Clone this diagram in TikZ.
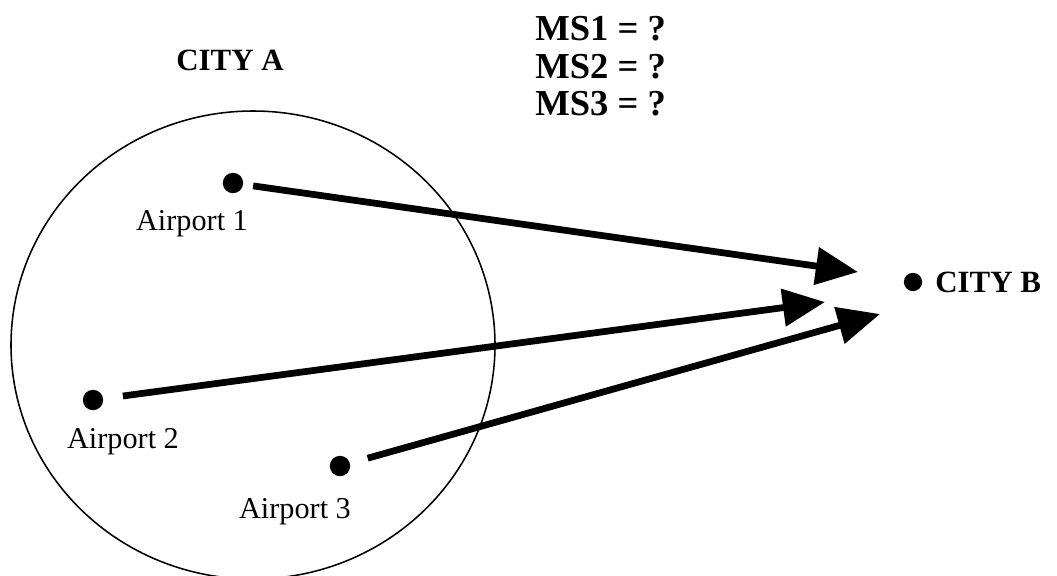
\documentclass[tikz,border=0pt]{standalone}
\usepackage{fontspec}
\setmainfont{Liberation Serif}
\usetikzlibrary{arrows.meta}

\tikzset{
    dot/.style={circle, fill=black, inner sep=0pt, minimum size=14.5pt},
    place/.style={font=\fontsize{21.5}{25}\selectfont, inner sep=0pt},
    city/.style={font=\bfseries\fontsize{22}{26}\selectfont, inner sep=0pt},
    share/.style={font=\bfseries\fontsize{26}{30}\selectfont, inner sep=0pt, anchor=base west},
    flight/.style={line width=4.8pt, -{Triangle[length=30pt, width=26pt]}}
}

\begin{document}
\begin{tikzpicture}[x=0.025cm, y=-0.025cm]
            % the frame
            \path[use as bounding box, clip] (0,0) rectangle (1057,575);
            % city A
            \draw[line width=1.1pt] (253,345) ellipse [x radius=242, y radius=234];

            % airports and city B
            \node[dot] (a1) at (233,183) {};
            \node[dot] (a2) at (93,400) {};
            \node[dot] (a3) at (340,466) {};
            \node[dot, minimum size=13pt] (b) at (913,282) {};

            % arrow tips
            \coordinate (t1) at (858,272);
            \coordinate (t2) at (825,302);
            \coordinate (t3) at (880,314);

            \foreach \i/\s in {1/7pt, 2/14pt, 3/13pt} {
                \draw[flight, shorten <=\s] (a\i) -- (t\i);
            };

            % labels
            \node[place, anchor=base] (l1) at (192,230) {Airport 1};
            \node[place, anchor=base] (l2) at (123,448) {Airport 2};
            \node[place, anchor=base] (l3) at (295,518) {Airport 3};
            \node[city, anchor=base] (ca) at (230,70) {CITY A};
            \node[city, anchor=west] (cb) at (935,282) {CITY B};
            \node[share] (ms1) at (535,40) {MS1 = ?};
            \node[share] (ms2) at (535,78) {MS2 = ?};
            \node[share] (ms3) at (535,115) {MS3 = ?};
        \end{tikzpicture}
\end{document}
